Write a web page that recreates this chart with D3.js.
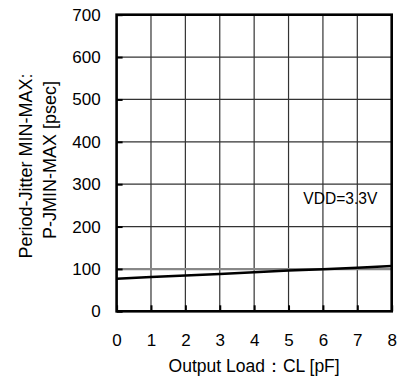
<!DOCTYPE html>
<html><head><meta charset="utf-8">
<script src="https://cdn.jsdelivr.net/npm/d3@7"></script>
<style>body{margin:0;background:#fff}svg{display:block}</style>
</head><body>
<script>
const loads = [0,1,2,3,4,5,6,7,8];
const jitterVDD33 = [77, 81, 84.5, 88, 92, 96, 99.5, 103, 107];
const refLine = [99.5, 99.5, 99.5, 99.5, 99.5, 99.5, 99.5, 99.5, 99.5];
const xTicks = [0,1,2,3,4,5,6,7,8];
const yTicks = [0,100,200,300,400,500,600,700];
const xTitle = "Output Load：CL [pF]";
const yTitle1 = "Period-Jitter MIN-MAX:";
const yTitle2 = "P-JMIN-MAX [psec]";
const annot = "VDD=3.3V";

const W=419,H=385;
const L=116.6,R=391.7,T=14.7,B=311.3;
const svg=d3.select("body").append("svg").attr("width",W).attr("height",H);
const x=d3.scaleLinear().domain([0,8]).range([L,R]);
const y=d3.scaleLinear().domain([0,700]).range([B,T]);
const font="Liberation Sans, Arial, sans-serif";

// grid
const g=svg.append("g");
g.selectAll(".vg").data(xTicks.slice(1,-1)).join("line")
 .attr("x1",d=>x(d)).attr("x2",d=>x(d)).attr("y1",T).attr("y2",B)
 .attr("stroke","#333").attr("stroke-width",1.2);
g.selectAll(".hg").data(yTicks.slice(1,-1)).join("line")
 .attr("y1",d=>y(d)).attr("y2",d=>y(d)).attr("x1",L).attr("x2",R)
 .attr("stroke","#333").attr("stroke-width",1.2);

// series
const line=d3.line().x((d,i)=>x(loads[i])).y(d=>y(d));
svg.append("path").datum(refLine).attr("d",line).attr("fill","none")
 .attr("stroke","#888").attr("stroke-width",2.2);
svg.append("path").datum(jitterVDD33).attr("d",line).attr("fill","none")
 .attr("stroke","#000").attr("stroke-width",2.5);

// axes (inner ticks)
const xa=svg.append("g").attr("transform",`translate(0,${B})`)
 .call(d3.axisBottom(x).tickValues(xTicks).tickSizeInner(-6).tickSizeOuter(0).tickPadding(22.5));
const ya=svg.append("g").attr("transform",`translate(${L},0)`)
 .call(d3.axisLeft(y).tickValues(yTicks).tickSizeInner(-6).tickSizeOuter(0).tickPadding(16));
[xa,ya].forEach(a=>{
 a.select(".domain").remove();
 a.selectAll("line").attr("stroke","#000").attr("stroke-width",2);
 a.selectAll("text").attr("font-family",font).attr("font-size",17).attr("fill","#000");
});

// frame
svg.append("rect").attr("x",L).attr("y",T).attr("width",R-L).attr("height",B-T)
 .attr("fill","none").attr("stroke","#000").attr("stroke-width",2.6);

// annotation
svg.append("text").attr("x",x(5.43)).attr("y",y(253)).attr("font-family",font)
 .attr("font-size",15.6).text(annot);

// titles
svg.append("text").attr("x",(L+R)/2).attr("y",372).attr("text-anchor","middle")
 .attr("font-family",font).attr("font-size",17.5).text(xTitle);
svg.append("text").attr("transform","translate(32,166) rotate(-90)").attr("text-anchor","middle")
 .attr("font-family",font).attr("font-size",18).text(yTitle1);
svg.append("text").attr("transform","translate(56,160) rotate(-90)").attr("text-anchor","middle")
 .attr("font-family",font).attr("font-size",18).text(yTitle2);
</script>
</body></html>
